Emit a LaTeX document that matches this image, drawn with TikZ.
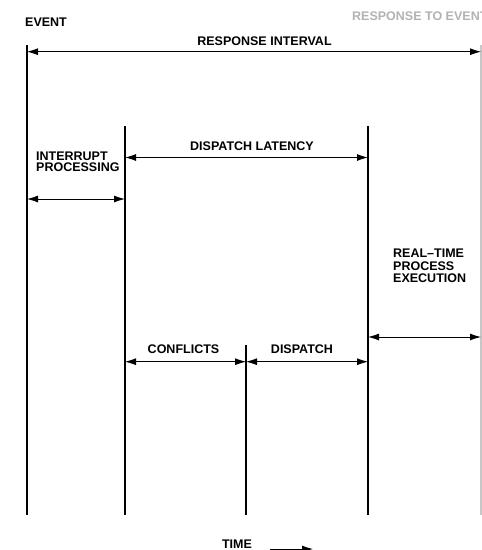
\documentclass[tikz,border=0pt]{standalone}
\usepackage{fontspec}
\setmainfont{Liberation Sans}
\usetikzlibrary{arrows.meta}
\begin{document}
\begin{tikzpicture}[x=1pt,y=-1pt,
  vline/.style={line width=1.8pt},
  gline/.style={line width=1.8pt, draw=black!22},
  tip/.tip={Latex[length=11pt,width=7pt]},
  dim/.style={line width=0.8pt,{tip}-{tip}},
  lbl/.style={font=\bfseries\fontsize{12.5}{12.5}\selectfont, inner sep=0pt, align=left},
  glbl/.style={lbl, text=black!30}]
\useasboundingbox (0,0) rectangle (482,550);

% vertical time lines
\coordinate (evT) at (27,45);   \coordinate (evB) at (27,515);
\coordinate (rtT) at (481,45);  \coordinate (rtB) at (481,515);
\coordinate (ipT) at (125,126); \coordinate (ipB) at (125,515);
\coordinate (dlT) at (368,126); \coordinate (dlB) at (368,515);
\coordinate (cfT) at (246,345); \coordinate (cfB) at (246,515);
\draw[vline] (evT) -- (evB);
\draw[gline] (rtT) -- (rtB);
\draw[vline] (ipT) -- (ipB);
\draw[vline] (dlT) -- (dlB);
\draw[vline] (cfT) -- (cfB);

% arrow end points on the lines
\coordinate (ri1) at (27,51.7);  \coordinate (ri2) at (481,51.7);
\coordinate (dl1) at (125,157.5); \coordinate (dl2) at (368,157.5);
\coordinate (ip1) at (27,199);   \coordinate (ip2) at (125,199);
\coordinate (re1) at (368,337);  \coordinate (re2) at (481,337);
\coordinate (cf1) at (125,361.7); \coordinate (cf2) at (246,361.7);
\coordinate (dp1) at (246,361.7); \coordinate (dp2) at (368,361.7);
\draw[dim] (ri1) -- (ri2);
\draw[dim] (dl1) -- (dl2);
\draw[dim] (ip1) -- (ip2);
\draw[dim] (re1) -- (re2);
\draw[dim] (cf1) -- (cf2);
\draw[dim] (dp1) -- (dp2);

% labels
\node[lbl, anchor=west] (event) at (25,21.7) {EVENT};
\node[glbl, anchor=west] (resp) at (352,16) {RESPONSE TO EVENT};
\node[lbl] (rint) at (264.5,41) {RESPONSE INTERVAL};
\node[lbl] (dlat) at (252,146) {DISPATCH LATENCY};
\node[lbl, anchor=north west, font=\bfseries\fontsize{12.5}{11.5}\selectfont] (intp) at (36,151.5) {INTERRUPT\\PROCESSING};
\node[lbl, anchor=north west, font=\bfseries\fontsize{12.5}{12.5}\selectfont] (rtpe) at (393,249) {REAL--TIME\\PROCESS\\EXECUTION};
\node[lbl] (conf) at (183.5,349.5) {CONFLICTS};
\node[lbl] (disp) at (302,349.5) {DISPATCH};
\node[lbl] (time) at (237,544) {TIME};
\coordinate (ta1) at (270,549);
\coordinate (ta2) at (313,549);
\draw[line width=0.8pt,-{tip}] (ta1) -- (ta2);
\end{tikzpicture}
\end{document}
